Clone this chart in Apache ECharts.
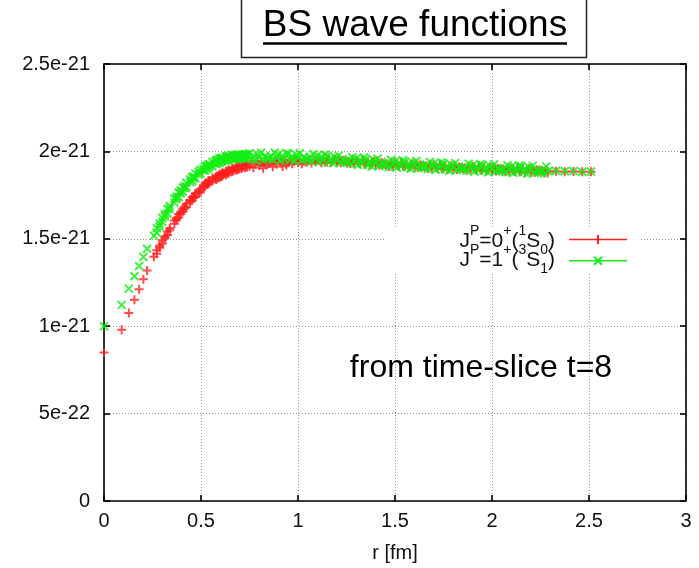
<!DOCTYPE html>
<html>
<head>
<meta charset="utf-8">
<script src="https://cdn.jsdelivr.net/npm/echarts@6/dist/echarts.min.js"></script>
<style>
  html, body { margin: 0; padding: 0; background: #fff; }
  #chart { width: 699px; height: 568px; }
</style>
</head>
<body>
<div id="chart"></div>
<script>
// ---- data: BS wave function values (units of 1e-21) ----
// r [fm]: lattice shells (rising part, two points per shell), then the dense plateau, then the sparse tail
const rFm = [0, 0.091, 0.128, 0.157, 0.181, 0.203, 0.222, 0.257,
  0.272, 0.272, 0.287, 0.287, 0.301, 0.301, 0.314, 0.314, 0.327, 0.327, 0.339, 0.339,
  0.363, 0.363, 0.374, 0.374, 0.385, 0.385, 0.395, 0.395, 0.406, 0.406, 0.416, 0.416, 0.425, 0.425,
  0.444, 0.444, 0.454, 0.454, 0.462, 0.462, 0.471, 0.471, 0.488, 0.488, 0.497, 0.497,
  0.513, 0.513, 0.521, 0.521, 0.529, 0.529, 0.537, 0.537, 0.544, 0.544, 0.559, 0.559,
  0.574, 0.574, 0.581, 0.581, 0.588, 0.588, 0.595, 0.595, 0.602, 0.602, 0.608, 0.608, 0.615, 0.615,
  0.628, 0.628, 0.635, 0.635, 0.641, 0.641, 0.648, 0.648, 0.660, 0.660, 0.667, 0.667,
  0.679, 0.679, 0.685, 0.685, 0.691, 0.691, 0.697, 0.697,
  0.708, 0.708, 0.714, 0.714, 0.726, 0.726, 0.731, 0.731, 0.737, 0.737,
  0.75, 0.76, 0.77, 0.78, 0.79, 0.80, 0.81, 0.82, 0.83, 0.84,
  0.85, 0.86, 0.87, 0.88, 0.89, 0.90, 0.91, 0.92, 0.93, 0.94,
  0.95, 0.96, 0.97, 0.98, 0.99, 1.00, 1.01, 1.02, 1.03, 1.04,
  1.05, 1.06, 1.07, 1.08, 1.09, 1.10, 1.11, 1.12, 1.13, 1.14,
  1.15, 1.16, 1.17, 1.18, 1.19, 1.20, 1.21, 1.22, 1.23, 1.24,
  1.25, 1.26, 1.27, 1.28, 1.29, 1.30, 1.31, 1.32, 1.33, 1.34,
  1.35, 1.36, 1.37, 1.38, 1.39, 1.40, 1.41, 1.42, 1.43, 1.44,
  1.45, 1.46, 1.47, 1.48, 1.49, 1.50, 1.51, 1.52, 1.53, 1.54,
  1.55, 1.56, 1.57, 1.58, 1.59, 1.60, 1.61, 1.62, 1.63, 1.64,
  1.65, 1.66, 1.67, 1.68, 1.69, 1.70, 1.71, 1.72, 1.73, 1.74,
  1.75, 1.76, 1.77, 1.78, 1.79, 1.80, 1.81, 1.82, 1.83, 1.84,
  1.85, 1.86, 1.87, 1.88, 1.89, 1.90, 1.91, 1.92, 1.93, 1.94,
  1.95, 1.96, 1.97, 1.98, 1.99, 2.00, 2.01, 2.02, 2.03, 2.04,
  2.05, 2.06, 2.07, 2.08, 2.09, 2.10, 2.11, 2.12, 2.13, 2.14,
  2.15, 2.16, 2.17, 2.18, 2.19, 2.20, 2.21, 2.22, 2.23, 2.24,
  2.25, 2.26, 2.27, 2.28, 2.29,
  2.33, 2.375, 2.42, 2.465, 2.51];

// J^P = 0^+ (1S0)  -- red "+"
const psi1S0 = [0.850, 0.980, 1.076, 1.152, 1.212, 1.268, 1.318, 1.398,
  1.435, 1.415, 1.461, 1.449, 1.491, 1.473, 1.513, 1.503, 1.542, 1.522, 1.561, 1.549,
  1.604, 1.586, 1.619, 1.609, 1.642, 1.622, 1.654, 1.642, 1.673, 1.655, 1.683, 1.673, 1.700, 1.680,
  1.722, 1.710, 1.737, 1.719, 1.743, 1.733, 1.759, 1.739, 1.773, 1.761, 1.785, 1.767,
  1.805, 1.795, 1.818, 1.798, 1.821, 1.809, 1.831, 1.813, 1.833, 1.823, 1.849, 1.829,
  1.852, 1.840, 1.859, 1.841, 1.860, 1.850, 1.869, 1.849, 1.869, 1.857, 1.876, 1.858, 1.876, 1.866,
  1.887, 1.867, 1.887, 1.875, 1.893, 1.875, 1.892, 1.882, 1.903, 1.883, 1.902, 1.890,
  1.910, 1.892, 1.908, 1.898, 1.915, 1.895, 1.913, 1.901,
  1.920, 1.902, 1.918, 1.908, 1.927, 1.907, 1.925, 1.913, 1.929, 1.911,
  1.914, 1.942, 1.906, 1.930, 1.946, 1.919, 1.937, 1.904, 1.934, 1.924,
  1.932, 1.942, 1.912, 1.945, 1.927, 1.954, 1.938, 1.914, 1.950, 1.922,
  1.934, 1.948, 1.930, 1.942, 1.950, 1.936, 1.946, 1.929, 1.944, 1.939,
  1.944, 1.949, 1.934, 1.951, 1.941, 1.955, 1.947, 1.935, 1.953, 1.939,
  1.940, 1.954, 1.936, 1.948, 1.956, 1.942, 1.952, 1.935, 1.950, 1.945,
  1.939, 1.944, 1.929, 1.946, 1.936, 1.950, 1.942, 1.930, 1.948, 1.934,
  1.926, 1.940, 1.922, 1.934, 1.942, 1.928, 1.938, 1.921, 1.936, 1.931,
  1.924, 1.929, 1.914, 1.931, 1.921, 1.935, 1.927, 1.915, 1.933, 1.919,
  1.913, 1.927, 1.909, 1.921, 1.929, 1.915, 1.925, 1.908, 1.923, 1.918,
  1.912, 1.917, 1.902, 1.919, 1.909, 1.923, 1.915, 1.903, 1.921, 1.907,
  1.901, 1.915, 1.897, 1.909, 1.917, 1.903, 1.913, 1.896, 1.911, 1.906,
  1.902, 1.907, 1.892, 1.909, 1.899, 1.913, 1.905, 1.893, 1.911, 1.897,
  1.893, 1.907, 1.889, 1.901, 1.909, 1.895, 1.905, 1.888, 1.903, 1.898,
  1.894, 1.899, 1.884, 1.901, 1.891, 1.905, 1.897, 1.885, 1.903, 1.889,
  1.885, 1.899, 1.881, 1.893, 1.901, 1.887, 1.897, 1.880, 1.895, 1.890,
  1.886, 1.891, 1.876, 1.893, 1.883,
  1.886, 1.884, 1.885, 1.883, 1.884];

// J^P = 1^+ (3S1)  -- green "x"
const psi3S1 = [1.000, 1.122, 1.215, 1.286, 1.344, 1.396, 1.443, 1.518,
  1.561, 1.535, 1.586, 1.570, 1.619, 1.597, 1.640, 1.628, 1.671, 1.645, 1.688, 1.672,
  1.729, 1.707, 1.741, 1.729, 1.765, 1.739, 1.776, 1.760, 1.793, 1.771, 1.802, 1.790, 1.821, 1.795,
  1.840, 1.824, 1.853, 1.831, 1.857, 1.845, 1.873, 1.847, 1.884, 1.868, 1.895, 1.873,
  1.903, 1.891, 1.916, 1.890, 1.917, 1.901, 1.925, 1.903, 1.925, 1.913, 1.941, 1.915,
  1.944, 1.928, 1.951, 1.929, 1.950, 1.938, 1.960, 1.934, 1.958, 1.942, 1.964, 1.942, 1.961, 1.949,
  1.972, 1.946, 1.969, 1.953, 1.974, 1.952, 1.971, 1.959, 1.980, 1.954, 1.976, 1.960,
  1.980, 1.958, 1.976, 1.964, 1.983, 1.957, 1.978, 1.962,
  1.982, 1.960, 1.977, 1.965, 1.984, 1.958, 1.979, 1.963, 1.982, 1.960,
  1.990, 1.956, 1.976, 1.948, 1.983, 1.965, 1.992, 1.952, 1.972, 1.961,
  1.961, 1.972, 1.952, 1.992, 1.965, 1.983, 1.948, 1.976, 1.956, 1.990,
  1.987, 1.953, 1.973, 1.945, 1.980, 1.962, 1.989, 1.949, 1.969, 1.958,
  1.953, 1.964, 1.944, 1.984, 1.957, 1.975, 1.940, 1.968, 1.948, 1.982,
  1.974, 1.940, 1.960, 1.932, 1.967, 1.949, 1.976, 1.936, 1.956, 1.945,
  1.936, 1.947, 1.927, 1.967, 1.940, 1.958, 1.923, 1.951, 1.931, 1.965,
  1.956, 1.922, 1.942, 1.914, 1.949, 1.931, 1.958, 1.918, 1.938, 1.927,
  1.920, 1.931, 1.911, 1.951, 1.924, 1.942, 1.907, 1.935, 1.915, 1.949,
  1.943, 1.909, 1.929, 1.901, 1.936, 1.918, 1.945, 1.905, 1.925, 1.914,
  1.908, 1.919, 1.899, 1.939, 1.912, 1.930, 1.895, 1.923, 1.903, 1.937,
  1.931, 1.897, 1.917, 1.889, 1.924, 1.906, 1.933, 1.893, 1.913, 1.902,
  1.898, 1.909, 1.889, 1.929, 1.902, 1.920, 1.885, 1.913, 1.893, 1.927,
  1.923, 1.889, 1.909, 1.881, 1.916, 1.898, 1.925, 1.885, 1.905, 1.894,
  1.890, 1.901, 1.881, 1.921, 1.894, 1.912, 1.877, 1.905, 1.885, 1.919,
  1.915, 1.881, 1.901, 1.873, 1.908, 1.890, 1.917, 1.877, 1.897, 1.886,
  1.882, 1.893, 1.873, 1.913, 1.886,
  1.889, 1.886, 1.887, 1.884, 1.885];

const xTickLabels = ['0', '0.5', '1', '1.5', '2', '2.5', '3'];
const yTickLabels = ['0', '5e-22', '1e-21', '1.5e-21', '2e-21', '2.5e-21'];
const seriesNames = ['0+(1S0)', '1+(3S1)'];

// ---- chart ----
const FONT = "'Liberation Sans', Arial, Helvetica, sans-serif";
const RED = '#ff1f1f';
const GREEN = '#14ee14';
const PLUS = 'path://M5,0L5,10M0,5L10,5';
const CROSS = 'path://M0,0L10,10M0,10L10,0';

const chart = echarts.init(document.getElementById('chart'), null, { renderer: 'canvas' });

const gridLine = { show: true, lineStyle: { color: '#9a9a9a', width: 1, type: [1, 2] } };
const axisLineBlack = { show: true, onZero: false, lineStyle: { color: '#000', width: 1.6 } };
const tickIn = { show: true, inside: true, length: 6, lineStyle: { color: '#000', width: 1.6 } };
const labelStyle = { color: '#111', fontSize: 20, fontFamily: FONT };

const richLegend = {
  m: { fontSize: 21, lineHeight: 33, fontFamily: FONT, color: '#111' },
  s: { fontSize: 14, lineHeight: 14, fontFamily: FONT, color: '#111', verticalAlign: 'top' },
  d: { fontSize: 14, lineHeight: 14, fontFamily: FONT, color: '#111', verticalAlign: 'bottom' }
};
function legendText(x, y, text) {
  return {
    type: 'text', z: 10,
    style: {
      x: x, y: y, text: text, rich: richLegend, fill: '#111',
      font: '21px ' + FONT,
      align: 'right', verticalAlign: 'middle',
      textAlign: 'right', textVerticalAlign: 'middle'
    }
  };
}

const option = {
  animation: false,
  backgroundColor: '#fff',
  grid: { left: 104, right: 13, top: 64, bottom: 66, containLabel: false },
  xAxis: [
    {
      type: 'value', position: 'bottom', min: 0, max: 3, interval: 0.5,
      axisLine: axisLineBlack, axisTick: tickIn,
      axisLabel: Object.assign({ margin: 10, formatter: v => xTickLabels[Math.round(v / 0.5)] }, labelStyle),
      splitLine: gridLine,
      name: 'r [fm]', nameLocation: 'middle', nameGap: 42,
      nameTextStyle: { color: '#111', fontSize: 20, fontFamily: FONT }
    },
    {
      type: 'value', position: 'top', min: 0, max: 3, interval: 0.5,
      axisLine: axisLineBlack, axisTick: tickIn,
      axisLabel: { show: false }, splitLine: { show: false }
    }
  ],
  yAxis: [
    {
      type: 'value', position: 'left', min: 0, max: 2.5, interval: 0.5,
      axisLine: axisLineBlack, axisTick: tickIn,
      axisLabel: Object.assign({ margin: 14, formatter: v => yTickLabels[Math.round(v / 0.5)] }, labelStyle),
      splitLine: gridLine
    },
    {
      type: 'value', position: 'right', min: 0, max: 2.5, interval: 0.5,
      axisLine: axisLineBlack, axisTick: tickIn,
      axisLabel: { show: false }, splitLine: { show: false }
    }
  ],
  series: [
    {
      name: seriesNames[0], type: 'scatter', xAxisIndex: 0, yAxisIndex: 0,
      data: rFm.map((r, i) => [r, psi1S0[i]]),
      symbol: PLUS, symbolSize: 9,
      itemStyle: { color: 'rgba(0,0,0,0)', borderColor: RED, borderWidth: 2 },
      emphasis: { disabled: true }, z: 3
    },
    {
      name: seriesNames[1], type: 'scatter', xAxisIndex: 0, yAxisIndex: 0,
      data: rFm.map((r, i) => [r, psi3S1[i]]),
      symbol: CROSS, symbolSize: 8,
      itemStyle: { color: 'rgba(0,0,0,0)', borderColor: GREEN, borderWidth: 2 },
      emphasis: { disabled: true }, z: 4
    }
  ],
  graphic: [
    // title box
    { type: 'rect', z: 10, shape: { x: 241.5, y: -3, width: 345, height: 60.5 },
      style: { fill: '#fff', stroke: '#222', lineWidth: 1.5 } },
    { type: 'text', z: 11,
      style: { x: 415, y: 26, text: 'BS wave functions', font: '37px ' + FONT, fill: '#000',
               align: 'center', verticalAlign: 'middle', textAlign: 'center', textVerticalAlign: 'middle' } },
    { type: 'line', z: 11, shape: { x1: 263, y1: 43.5, x2: 567, y2: 43.5 },
      style: { stroke: '#000', lineWidth: 2.5 } },
    // opaque key box
    { type: 'rect', z: 1, shape: { x: 384, y: 228, width: 256, height: 46 },
      style: { fill: '#fff' } },
    legendText(555, 241, '{m|J}{s|P}{m|=0}{s|+}{m|(}{s|1}{m|S}{d|0}{m|)}'),
    legendText(555, 260, '{m|J}{s|P}{m|=1}{s|+}{m|(}{s|3}{m|S}{d|1}{m|)}'),
    { type: 'line', z: 10, shape: { x1: 569, y1: 239.5, x2: 627, y2: 239.5 },
      style: { stroke: RED, lineWidth: 1.5 } },
    { type: 'line', z: 10, shape: { x1: 598, y1: 235, x2: 598, y2: 244 },
      style: { stroke: RED, lineWidth: 2 } },
    { type: 'line', z: 10, shape: { x1: 569, y1: 260.7, x2: 627, y2: 260.7 },
      style: { stroke: GREEN, lineWidth: 1.5 } },
    { type: 'line', z: 10, shape: { x1: 594, y1: 256.7, x2: 602, y2: 264.7 },
      style: { stroke: GREEN, lineWidth: 2 } },
    { type: 'line', z: 10, shape: { x1: 594, y1: 264.7, x2: 602, y2: 256.7 },
      style: { stroke: GREEN, lineWidth: 2 } },
    // annotation
    { type: 'text', z: 10,
      style: { x: 481, y: 368.5, text: 'from time-slice t=8', font: '32px ' + FONT, fill: '#000',
               align: 'center', verticalAlign: 'middle', textAlign: 'center', textVerticalAlign: 'middle' } }
  ]
};
chart.setOption(option);
</script>
</body>
</html>
